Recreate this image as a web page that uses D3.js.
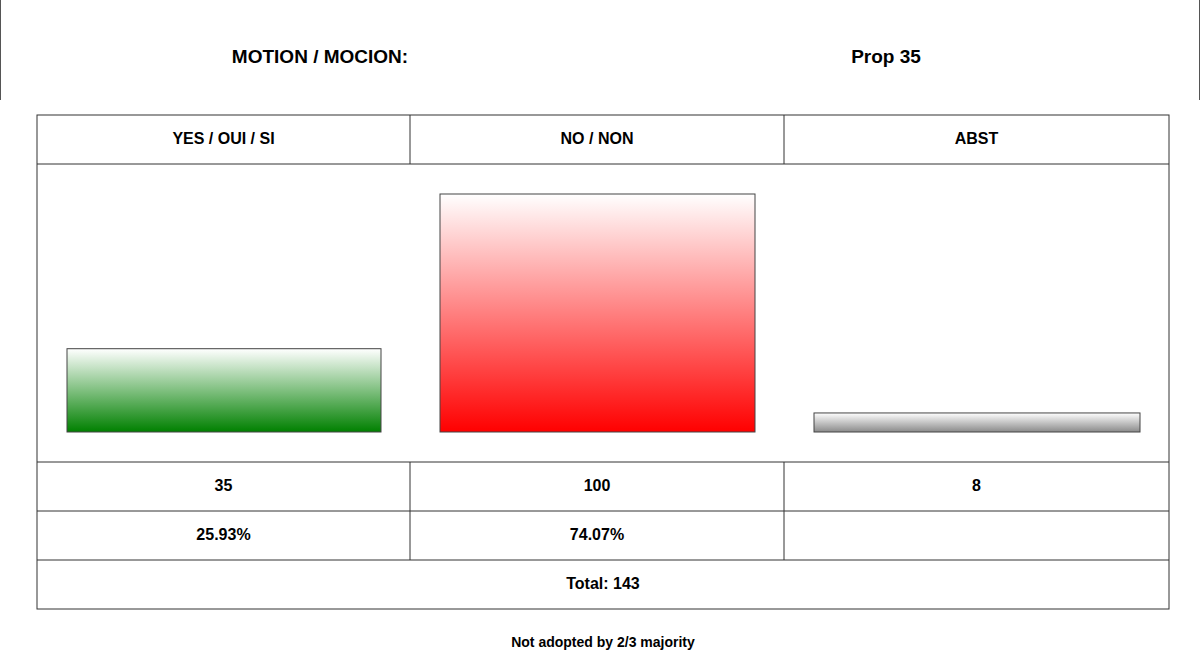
<!DOCTYPE html><html><head><meta charset="utf-8">
<script src="https://cdn.jsdelivr.net/npm/d3@7"></script>
<style>body{margin:0;background:#fff}svg{display:block;font-family:"Liberation Sans",Arial,sans-serif}</style>
</head><body><svg id="c" width="1200" height="671"></svg><script>
const categories=["YES / OUI / SI","NO / NON","ABST"];
const votes=[35,100,8];
const percents=["25.93%","74.07%",""];
const motionLabel="MOTION / MOCION:";
const motionName="Prop 35";
const totalLabel="Total: 143";
const resultText="Not adopted by 2/3 majority";
const colors=[["#ffffff","#008000"],["#ffffff","#ff0000"],["#ffffff","#8a8a8a"]];

const svg=d3.select("#c");
const L=37,R=1169,T=115;
const colEdges=[L,410,784,R];
const rows=[115,164,462,511,560,609];
const y=d3.scaleLinear().domain([0,100]).range([432,194]);
const defs=svg.append("defs");
colors.forEach((c,i)=>{const g=defs.append("linearGradient").attr("id","g"+i).attr("x1",0).attr("y1",0).attr("x2",0).attr("y2",1);
g.append("stop").attr("offset","0%").attr("stop-color",c[0]);g.append("stop").attr("offset","100%").attr("stop-color",c[1]);});

svg.append("line").attr("x1",0.5).attr("x2",0.5).attr("y1",0).attr("y2",100).attr("stroke","#555");
svg.append("line").attr("x1",1199.5).attr("x2",1199.5).attr("y1",0).attr("y2",100).attr("stroke","#555");
svg.append("text").attr("x",320).attr("y",63).attr("text-anchor","middle").attr("font-weight","bold").attr("font-size",19).text(motionLabel);
svg.append("text").attr("x",886).attr("y",63).attr("text-anchor","middle").attr("font-weight","bold").attr("font-size",19).text(motionName);

const g=svg.append("g").attr("stroke","#333").attr("stroke-width",1);
g.append("rect").attr("x",L).attr("y",T).attr("width",R-L).attr("height",rows[5]-T).attr("fill","none");
rows.slice(1,5).forEach(r=>g.append("line").attr("x1",L).attr("x2",R).attr("y1",r).attr("y2",r));
[1,2].forEach(i=>{g.append("line").attr("x1",colEdges[i]).attr("x2",colEdges[i]).attr("y1",rows[0]).attr("y2",rows[1]);
g.append("line").attr("x1",colEdges[i]).attr("x2",colEdges[i]).attr("y1",rows[2]).attr("y2",rows[4]);});

categories.forEach((c,i)=>{
 const x0=colEdges[i],x1=colEdges[i+1],cx=(x0+x1)/2;
 svg.append("text").attr("x",cx).attr("y",144).attr("text-anchor","middle").attr("font-weight","bold").attr("font-size",16).text(c);
 svg.append("rect").attr("x",x0+30).attr("width",x1-x0-59).attr("y",y(votes[i])).attr("height",y(0)-y(votes[i]))
  .attr("fill",`url(#g${i})`).attr("stroke","#444").attr("stroke-width",1);
 svg.append("text").attr("x",cx).attr("y",491).attr("text-anchor","middle").attr("font-weight","bold").attr("font-size",16).text(votes[i]);
 svg.append("text").attr("x",cx).attr("y",540).attr("text-anchor","middle").attr("font-weight","bold").attr("font-size",16).text(percents[i]);
});
svg.append("text").attr("x",(L+R)/2).attr("y",589).attr("text-anchor","middle").attr("font-weight","bold").attr("font-size",16).text(totalLabel);
svg.append("text").attr("x",603).attr("y",647).attr("text-anchor","middle").attr("font-weight","bold").attr("font-size",14).text(resultText);
</script></body></html>
